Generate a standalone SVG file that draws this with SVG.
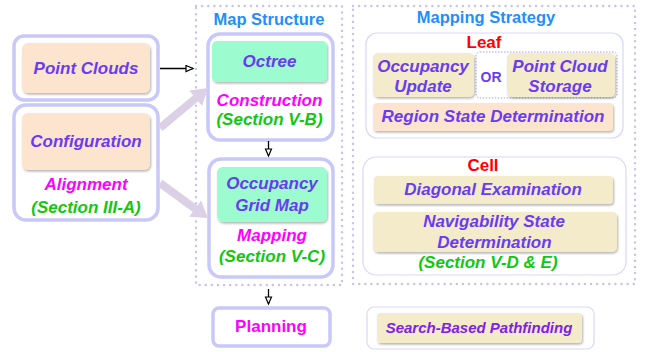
<svg xmlns="http://www.w3.org/2000/svg" width="646" height="352" viewBox="0 0 646 352">
<defs>
<filter id="sh" x="-10%" y="-20%" width="120%" height="150%">
<feDropShadow dx="1" dy="1.5" stdDeviation="1" flood-color="#000" flood-opacity="0.3"/>
</filter>
<marker id="ah" markerUnits="userSpaceOnUse" markerWidth="10" markerHeight="10" refX="8" refY="4" orient="auto">
<path d="M1,1 L8,4 L1,7 Z" fill="#fff" stroke="#000" stroke-width="1.2"/>
</marker>
<style>
text{font-family:"Liberation Sans",Arial,sans-serif;font-weight:bold;text-anchor:middle}
.i{font-style:italic}
.p{fill:#6a3cf0;font-size:17px}
.m{fill:#ff00ff;font-size:17px}
.g{fill:#11c811;font-size:17px}
.t{fill:#1e8fff;font-size:16.5px}
.r{fill:#ff0000;font-size:17px}
.outer{fill:#fff;stroke:#c8c8fa;stroke-width:3.5}
.thin{fill:#fff;stroke:#d8d8fa;stroke-width:1.2}
.dot{fill:none;stroke:#c4c4f2;stroke-width:2.4;stroke-linecap:round;stroke-dasharray:0.1 6}
.peach{fill:#fde4cf;filter:url(#sh)}
.mint{fill:#9cfbcf;filter:url(#sh)}
.khaki{fill:#f3ebca;filter:url(#sh)}
.fat{stroke:#dcd0e6;stroke-width:8;fill:none}
.head{fill:#dcd0e6}
.blk{stroke:#000;stroke-width:1.3;fill:none;marker-end:url(#ah)}
</style>
</defs>
<rect width="646" height="352" fill="#fff"/>

<g id="map-structure-frame">
<rect class="dot" x="196" y="6" width="146" height="279"/>
<text class="t" x="269" y="25">Map Structure</text>
</g>
<g id="mapping-strategy-frame">
<rect class="dot" x="353" y="6" width="282" height="278"/>
<text class="t" x="486" y="23">Mapping Strategy</text>
</g>

<g id="point-clouds">
<rect class="outer" x="14" y="36" width="144" height="64" rx="10"/>
<rect class="peach" x="22" y="43" width="128" height="50" rx="6"/>
<text class="p i" x="86" y="74">Point Clouds</text>
</g>

<g id="configuration">
<rect class="outer" x="14" y="105" width="144" height="115" rx="12"/>
<rect class="peach" x="22" y="113" width="128" height="57" rx="6"/>
<text class="p i" x="86" y="147">Configuration</text>
<text class="m i" x="86" y="190">Alignment</text>
<text class="g i" x="86" y="213">(Section III-A)</text>
</g>

<g id="octree">
<rect class="outer" x="208" y="34" width="125" height="106" rx="12"/>
<rect class="mint" x="212" y="41" width="115" height="41" rx="5"/>
<text class="p i" x="269.5" y="67">Octree</text>
<text class="m i" x="269.5" y="106">Construction</text>
<text class="g i" x="269.5" y="125">(Section V-B)</text>
</g>

<g id="occupancy-grid-map">
<rect class="outer" x="209" y="159" width="124" height="118" rx="12"/>
<rect class="mint" x="217" y="167" width="110" height="55" rx="6"/>
<text class="p i" x="272" y="189">Occupancy</text>
<text class="p i" x="272" y="211">Grid Map</text>
<text class="m i" x="272" y="241">Mapping</text>
<text class="g i" x="272" y="262">(Section V-C)</text>
</g>

<g id="planning">
<rect class="outer" x="213" y="308" width="117" height="38" rx="6"/>
<text class="m" x="271" y="332">Planning</text>
</g>

<g id="leaf">
<rect class="thin" x="366" y="33" width="257" height="105" rx="11"/>
<text class="r" x="484" y="48">Leaf</text>
<rect x="476" y="52" width="141" height="46" rx="4" fill="none" stroke="#9a9ad8" stroke-width="0.9" stroke-dasharray="1.5 1.5"/>
<rect class="khaki" x="373" y="53" width="101" height="44" rx="5"/>
<text class="p i" x="423" y="72">Occupancy</text>
<text class="p i" x="423" y="92">Update</text>
<text x="491" y="82" style="fill:#6a3cf0;font-size:14px">OR</text>
<rect class="khaki" x="507" y="53" width="108" height="44" rx="5"/>
<text class="p i" x="560" y="72">Point Cloud</text>
<text class="p i" x="560" y="92">Storage</text>
<rect class="peach" x="373" y="103" width="240" height="28" rx="4"/>
<text class="p i" x="493" y="122">Region State Determination</text>
</g>

<g id="cell">
<rect class="thin" x="363" y="157" width="263" height="118" rx="13"/>
<text class="r" x="483" y="171">Cell</text>
<rect class="khaki" x="374" y="176" width="239" height="28" rx="4"/>
<text class="p i" x="493" y="195">Diagonal Examination</text>
<rect class="khaki" x="373" y="212" width="244" height="40" rx="5"/>
<text class="p i" x="494" y="227">Navigability State</text>
<text class="p i" x="494.5" y="248">Determination</text>
<text class="g i" x="488" y="268">(Section V-D &amp; E)</text>
</g>

<g id="search-based-pathfinding">
<rect class="thin" x="367" y="307" width="227" height="42" rx="7"/>
<rect class="khaki" x="377" y="313" width="205" height="30" rx="4"/>
<text class="i" x="479" y="333" style="fill:#8020e8;font-size:15px">Search-Based Pathfinding</text>
</g>

<g id="connectors">
<line class="fat" x1="160" y1="128" x2="196" y2="98"/>
<polygon class="head" points="208,88 202.1,105.9 189.3,90.5"/>
<line class="fat" x1="160" y1="183" x2="195.5" y2="209"/>
<polygon class="head" points="208,218 189.2,216.7 201,200.5"/>
<line class="blk" x1="160" y1="68.5" x2="193" y2="68.5"/>
<line class="blk" x1="268.5" y1="141" x2="268.5" y2="156"/>
<line class="blk" x1="268.5" y1="289" x2="268.5" y2="304"/>
</g>
</svg>
